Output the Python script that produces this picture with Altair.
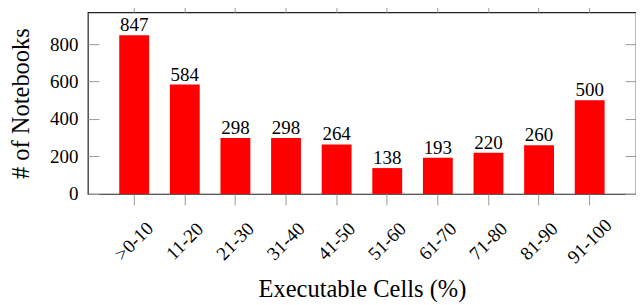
import altair as alt
import pandas as pd

categories = [">0-10", "11-20", "21-30", "31-40", "41-50", "51-60", "61-70", "71-80", "81-90", "91-100"]
notebooks = [847, 584, 298, 298, 264, 138, 193, 220, 260, 500]
y_ticks = [0, 200, 400, 600, 800]

df = pd.DataFrame({"range": categories, "count": notebooks})

FONT = "Liberation Serif"
TICK = "#9a9a9a"
LBL = 19
TTL = 24.5
xscale = alt.Scale(domain=categories, paddingInner=0.41, paddingOuter=0.62)
yscale = alt.Scale(domain=[0, 970], nice=False, zero=True)

bars = alt.Chart(df).mark_bar(color="#ff0000").encode(
    x=alt.X("range:N", sort=categories, scale=xscale,
            axis=alt.Axis(orient="bottom", title="Executable Cells (%)",
                          labelAngle=-45, labelAlign="center", labelBaseline="middle",
                          labelPadding=36, labelOverlap=False,
                          tickSize=11, tickColor=TICK, tickWidth=1, domain=False, grid=False,
                          labelFont=FONT, labelFontSize=LBL, labelColor="black",
                          titleFont=FONT, titleFontSize=TTL, titleFontWeight="normal",
                          titleColor="black", titleY=103, titleBaseline="alphabetic")),
    y=alt.Y("count:Q", scale=yscale,
            axis=alt.Axis(orient="left", values=y_ticks, offset=-11, title="# of Notebooks",
                          tickSize=11, tickColor=TICK, tickWidth=1, domain=False, grid=False,
                          labelPadding=10, labelFont=FONT, labelFontSize=LBL, labelColor="black",
                          titleFont=FONT, titleFontSize=TTL, titleFontWeight="normal",
                          titleColor="black", titleX=-77, titleY=91,
                          titleAngle=-90, titleAlign="center", titleBaseline="middle")),
)

labels = alt.Chart(df).mark_text(baseline="alphabetic", dy=-4, fontSize=LBL, font=FONT,
                                 color="black").encode(
    x=alt.X("range:N", sort=categories, scale=xscale,
            axis=alt.Axis(orient="top", labels=False, title=None, tickSize=11,
                          tickColor=TICK, tickWidth=1, domain=False, grid=False)),
    y=alt.Y("count:Q", scale=yscale,
            axis=alt.Axis(orient="right", values=y_ticks, labels=False, title=None,
                          offset=-11, tickSize=11, tickColor=TICK, tickWidth=1,
                          domain=False, grid=False)),
    text=alt.Text("count:Q"),
)

chart = alt.layer(bars, labels).resolve_axis(x="independent", y="independent").properties(
    width=549, height=182,
    autosize=alt.AutoSizeParams(type="none"),
    padding={"left": 80, "top": 4, "right": 0, "bottom": 108},
).configure_view(stroke="#222222", strokeWidth=1.2)

chart.save("out.html", embed_options={"renderer": "svg", "actions": False})
